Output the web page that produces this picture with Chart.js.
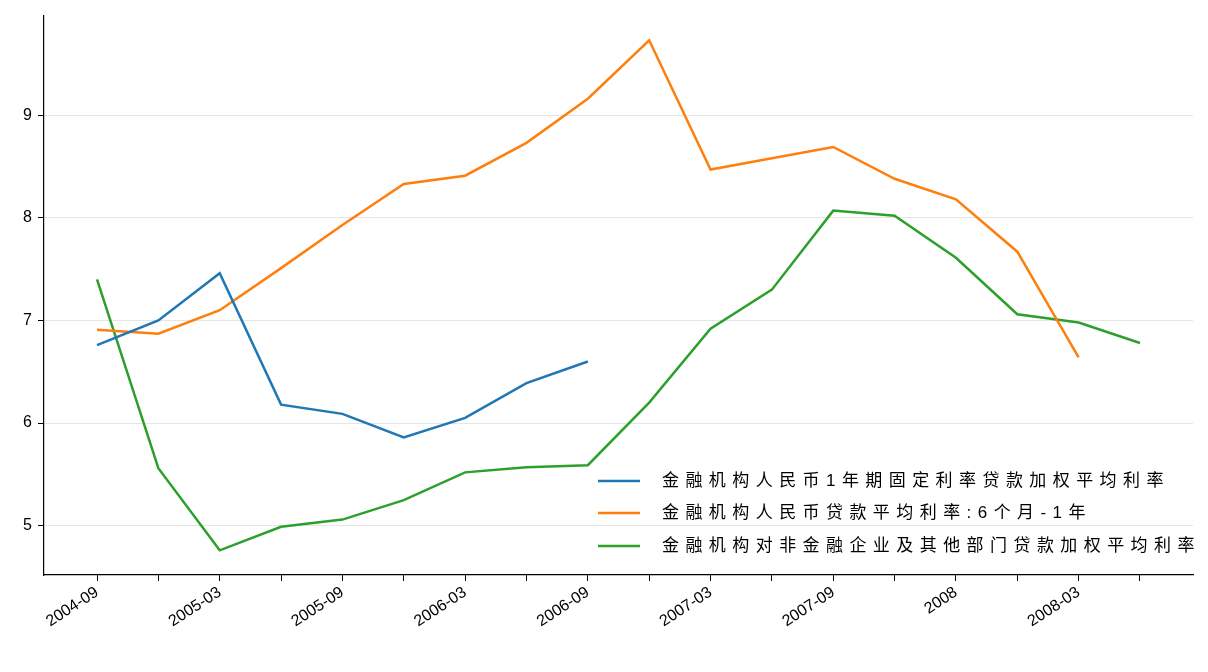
<!DOCTYPE html>
<html>
<head>
<meta charset="utf-8">
<script src="https://cdn.jsdelivr.net/npm/chart.js@4"></script>
<style>
  html, body { margin: 0; padding: 0; background: #fff; }
  #wrap { width: 1208px; height: 672px; }
</style>
</head>
<body>
<div id="wrap"><canvas id="c"></canvas></div>
<script>
// 季度刻度,只标注偶数位
const tickLabels = ['2004-09', '', '2005-03', '', '2005-09', '', '2006-03', '', '2006-09', '',
                    '2007-03', '', '2007-09', '', '2008', '', '2008-03', ''];
const seriesNames = [
    '金融机构人民币1年期固定利率贷款加权平均利率',
    '金融机构人民币贷款平均利率:6个月-1年',
    '金融机构对非金融企业及其他部门贷款加权平均利率'
];
const fixedRate = [6.76, 7.00, 7.46, 6.18, 6.09, 5.86, 6.05, 6.39, 6.60];
const avgRate = [6.91, 6.87, 7.10, 7.51, 7.93, 8.33, 8.41, 8.73, 9.16, 9.73,
                 8.47, 8.58, 8.69, 8.38, 8.18, 7.67, 6.64];
const corpRate = [7.40, 5.56, 4.76, 4.99, 5.06, 5.25, 5.52, 5.57, 5.59, 6.20,
                  6.92, 7.30, 8.07, 8.02, 7.61, 7.06, 6.98, 6.78];
const colors = ['#1f77b4', '#ff7f0e', '#2ca02c'];

const toPoints = arr => arr.map((v, i) => ({ x: i, y: v }));
const FONT = 'Arial, "Liberation Sans", "Noto Sans CJK SC", sans-serif';

// 图例画在绘图区内部右下角
const legendInside = {
    id: 'legendInside',
    afterDraw(chart) {
        const ctx = chart.ctx;
        ctx.save();
        ctx.font = '17px ' + FONT;
        ctx.textBaseline = 'middle';
        // 按参考图拉宽字距
        const w0 = ctx.measureText(seriesNames[0]).width;
        const spacing = (508 - w0) / seriesNames[0].length;
        ctx.letterSpacing = spacing.toFixed(2) + 'px';
        [481, 513, 546].forEach((y, i) => {
            ctx.strokeStyle = colors[i];
            ctx.lineWidth = 2.5;
            ctx.beginPath();
            ctx.moveTo(598, y);
            ctx.lineTo(640, y);
            ctx.stroke();
            ctx.fillStyle = '#000';
            ctx.fillText(seriesNames[i], 662, y);
        });
        ctx.restore();
    }
};

new Chart(document.getElementById('c'), {
    type: 'line',
    data: {
        datasets: [fixedRate, avgRate, corpRate].map((arr, i) => ({
            label: seriesNames[i],
            data: toPoints(arr),
            borderColor: colors[i],
            backgroundColor: colors[i],
            borderWidth: 2.5,
            pointRadius: 0,
            tension: 0
        }))
    },
    options: {
        responsive: true,
        maintainAspectRatio: false,
        animation: false,
        layout: { padding: { left: 0, right: 15, top: 15, bottom: 0 } },
        plugins: { legend: { display: false }, tooltip: { enabled: false } },
        scales: {
            x: {
                type: 'linear',
                min: -0.864,
                max: 17.864,
                afterBuildTicks: axis => { axis.ticks = tickLabels.map((_, i) => ({ value: i })); },
                afterFit: axis => { axis.height = 97; },
                grid: { drawOnChartArea: false, drawTicks: true, tickLength: 6, tickColor: '#000' },
                border: { color: '#000', width: 1.2 },
                ticks: {
                    autoSkip: false,
                    maxRotation: 33,
                    minRotation: 33,
                    padding: 2,
                    color: '#000',
                    font: { family: FONT, size: 16 },
                    callback: v => tickLabels[v] ?? ''
                }
            },
            y: {
                min: 4.52,
                max: 9.97,
                afterBuildTicks: axis => { axis.ticks = [5, 6, 7, 8, 9].map(v => ({ value: v })); },
                afterFit: axis => { axis.width = 44; },
                grid: { color: '#e5e5e5', tickColor: '#000', tickLength: 6 },
                border: { color: '#000', width: 1.2 },
                ticks: { color: '#000', padding: 6, font: { family: FONT, size: 16 } }
            }
        }
    },
    plugins: [legendInside]
});
</script>
</body>
</html>
